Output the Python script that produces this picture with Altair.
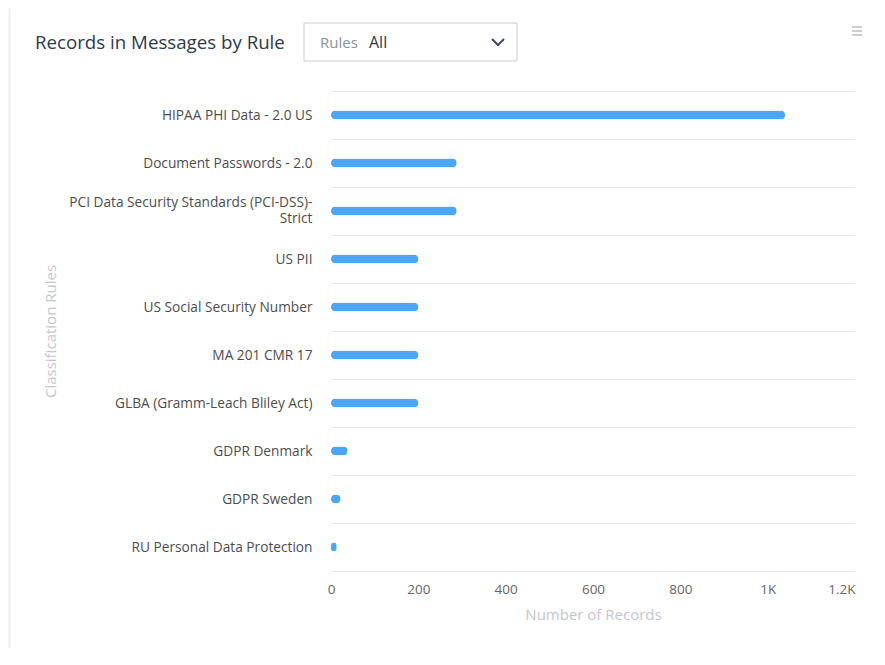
import altair as alt
import pandas as pd

rules = [
    "HIPAA PHI Data - 2.0 US",
    "Document Passwords - 2.0",
    "PCI Data Security Standards (PCI-DSS)-Strict",
    "US PII",
    "US Social Security Number",
    "MA 201 CMR 17",
    "GLBA (Gramm-Leach Bliley Act)",
    "GDPR Denmark",
    "GDPR Sweden",
    "RU Personal Data Protection",
]
records = [1040, 288, 288, 200, 200, 200, 200, 38, 22, 13]
x_ticks = [0, 200, 400, 600, 800, 1000, 1200]

chart_title = "Records in Messages by Rule"
dropdown_label = "Rules"
dropdown_value = "All"

FONT = "Open Sans"
df = pd.DataFrame({"rule": rules, "records": records})
one = pd.DataFrame({"k": [0]})

card = alt.Chart(one).mark_rect(fill="white", stroke="#ebebeb", strokeWidth=1, cornerRadius=3).encode(
    x=alt.value(-321), x2=alt.value(548), y=alt.value(-85), y2=alt.value(565)
)

bars = alt.Chart(df).mark_bar(size=9, cornerRadius=4.5, color="#4aa6f7").encode(
    x=alt.X(
        "records:Q",
        scale=alt.Scale(domain=[0, 1200], nice=False),
        axis=alt.Axis(
            title="Number of Records",
            values=x_ticks,
            grid=False,
            domain=False,
            ticks=False,
            tickSize=0,
            labelPadding=11,
            labelFont=FONT,
            labelFontSize=13.5,
            labelColor="#666666",
            labelExpr="datum.value >= 1000 ? format(datum.value / 1000, '~g') + 'K' : datum.label",
            labelAlign={"condition": {"test": "datum.value >= 1200", "value": "right"}, "value": "center"},
            titleFont=FONT,
            titleFontSize=15,
            titleFontWeight="normal",
            titleColor="#c3c6cd",
            titlePadding=12,
            zindex=1,
        ),
    ),
    y=alt.Y(
        "rule:N",
        sort=rules,
        scale=alt.Scale(paddingInner=0, paddingOuter=0),
        axis=alt.Axis(
            title="Classification Rules",
            grid=True,
            tickBand="extent",
            gridColor="#e6e6e6",
            gridWidth=1,
            domain=False,
            ticks=False,
            tickSize=0,
            labelPadding=19,
            labelLimit=400,
            labelFont=FONT,
            labelFontSize=13.7,
            labelColor="#4d4d4d",
            labelLineHeight=16,
            labelExpr="datum.label == 'PCI Data Security Standards (PCI-DSS)-Strict' ? ['PCI Data Security Standards (PCI-DSS)-', 'Strict'] : datum.label",
            labelOffset={
                "condition": {"test": "datum.value == 'PCI Data Security Standards (PCI-DSS)-Strict'", "value": -9},
                "value": 0,
            },
            minExtent=263,
            maxExtent=263,
            titleFont=FONT,
            titleFontSize=15,
            titleFontWeight="normal",
            titleColor="#c3c6cd",
            titlePadding=10,
            zindex=1,
        ),
    ),
)

title_txt = alt.Chart(one).mark_text(
    text=chart_title, align="left", baseline="middle", font=FONT, fontSize=18.7, color="#2d3a4b"
).encode(x=alt.value(-296), y=alt.value(-48))

dd_box = alt.Chart(one).mark_rect(fill="white", stroke="#c9cbd0", strokeWidth=1).encode(
    x=alt.value(-27), x2=alt.value(186), y=alt.value(-68), y2=alt.value(-30)
)
dd_label = alt.Chart(one).mark_text(
    text=dropdown_label, align="left", baseline="middle", font=FONT, fontSize=15, color="#8b909a"
).encode(x=alt.value(-11), y=alt.value(-48))
dd_value = alt.Chart(one).mark_text(
    text=dropdown_value, align="left", baseline="middle", font=FONT, fontSize=16, fontWeight=500, color="#2d3a4b"
).encode(x=alt.value(38), y=alt.value(-48))

chev1 = alt.Chart(one).mark_rule(color="#3c4858", strokeWidth=2, strokeCap="round").encode(
    x=alt.value(161.5), y=alt.value(-51.5), x2=alt.value(167), y2=alt.value(-46)
)
chev2 = alt.Chart(one).mark_rule(color="#3c4858", strokeWidth=2, strokeCap="round").encode(
    x=alt.value(167), y=alt.value(-46), x2=alt.value(172.5), y2=alt.value(-51.5)
)

menu = [
    alt.Chart(one).mark_rule(color="#b9bcc4", strokeWidth=1.5).encode(
        x=alt.value(521), x2=alt.value(531), y=alt.value(yy)
    )
    for yy in (-64, -60, -56)
]

chart = alt.layer(
    card, bars, title_txt, dd_box, dd_label, dd_value, chev1, chev2, *menu
).properties(
    width=524,
    height=480,
    autosize=alt.AutoSizeParams(type="none"),
    padding={"left": 323, "top": 83, "right": 22, "bottom": 77},
    background="#f7f7f7",
).configure_view(stroke=None)

chart.save("out.html", embed_options={"renderer": "svg", "actions": False})
